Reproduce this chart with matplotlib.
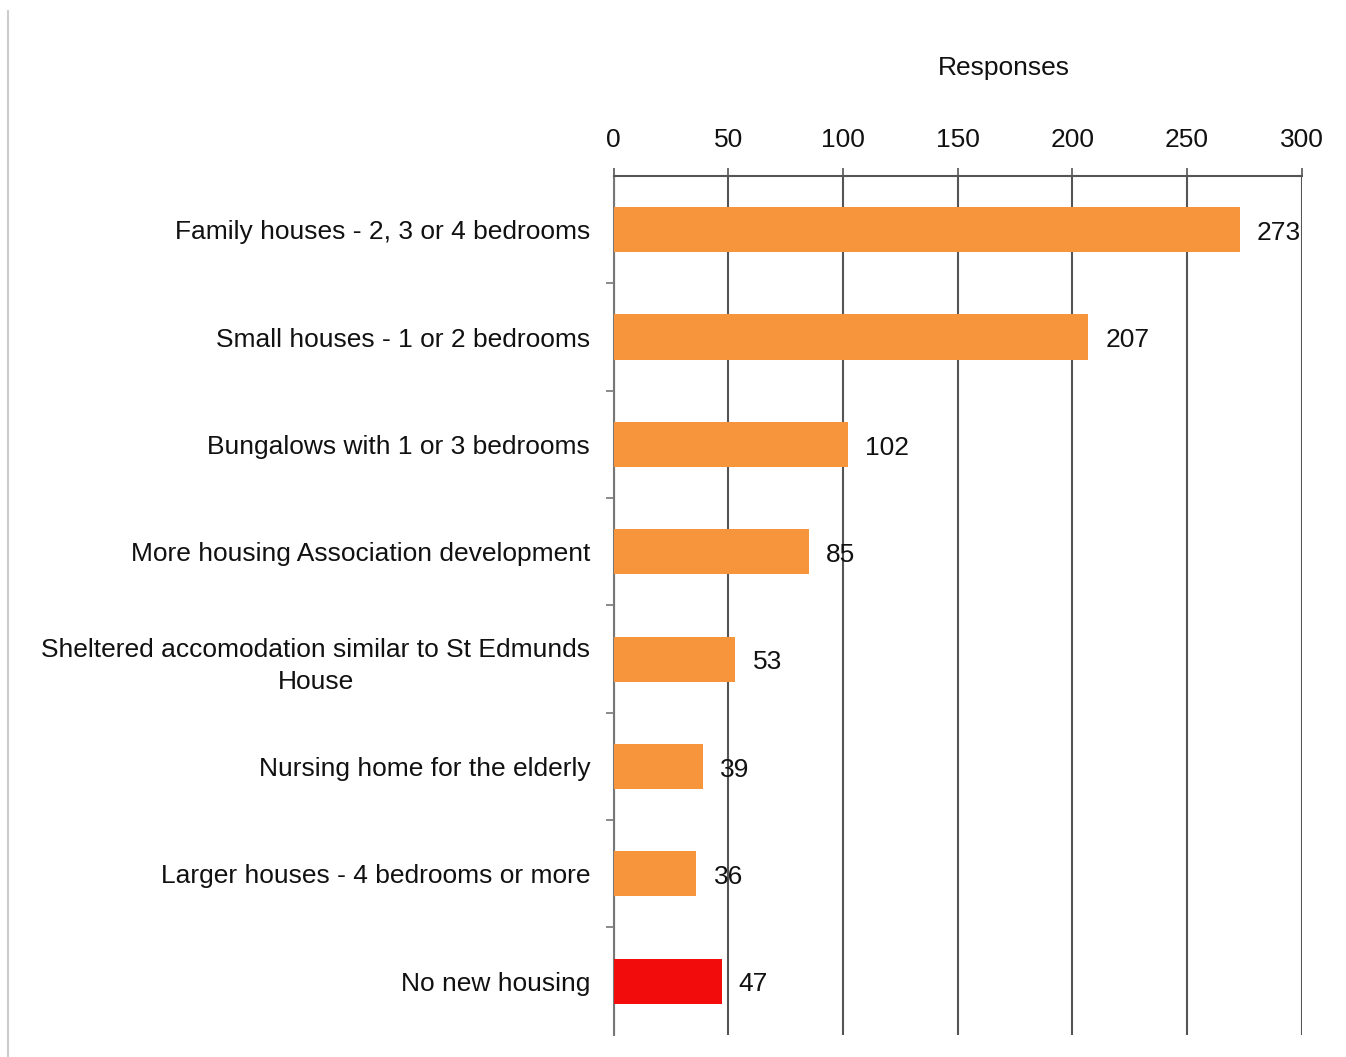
import matplotlib
matplotlib.use("Agg")
import matplotlib.pyplot as plt
from matplotlib.lines import Line2D

plt.rcParams["font.family"] = ["Liberation Sans", "DejaVu Sans"]

# survey answers, top to bottom
categories = [
    "Family houses - 2, 3 or 4 bedrooms",
    "Small houses - 1 or 2 bedrooms",
    "Bungalows with 1 or 3 bedrooms",
    "More housing Association development",
    "Sheltered accomodation similar to St Edmunds\nHouse",
    "Nursing home for the elderly",
    "Larger houses - 4 bedrooms or more",
    "No new housing",
]
responses = [273, 207, 102, 85, 53, 39, 36, 47]
bar_colors = ["#f7953c"] * 7 + ["#f20c0c"]
xticks = [0, 50, 100, 150, 200, 250, 300]

fig = plt.figure(figsize=(13.46, 10.57), dpi=100)
ax = fig.add_axes([0.456, 0.021, 0.511, 0.8125])

y = list(range(len(categories)))
ax.barh(y, responses, height=0.42, color=bar_colors, zorder=3)
for yi, v in zip(y, responses):
    ax.text(v + 7.5, yi + 0.03, str(v), va="center", ha="left", fontsize=19, color="#111111", zorder=4)

ax.set_ylim(len(categories) - 0.5, -0.5)
ax.set_xlim(0, 300)
ax.set_yticks(y)
ax.set_yticklabels(categories, fontsize=19, color="#111111", multialignment="center",
                   linespacing=1.45)
ax.set_yticks([i + 0.5 for i in y[:-1]], minor=True)
ax.tick_params(axis="y", which="major", length=0, pad=17)
ax.tick_params(axis="y", which="minor", length=6, width=1.2, color="#777777")

ax.xaxis.tick_top()
ax.set_xticks(xticks)
ax.tick_params(axis="x", length=6, width=1.2, color="#555555", labelsize=19, pad=11, labelcolor="#111111")
ax.grid(axis="x", color="#555555", linewidth=1.5, zorder=1)

for s in ["bottom", "right"]:
    ax.spines[s].set_visible(False)
ax.spines["top"].set_color("#555555")
ax.spines["top"].set_linewidth(1.5)
ax.spines["left"].set_color("#777777")
ax.spines["left"].set_linewidth(1.5)

fig.text(0.746, 0.936, "Responses", ha="center", va="center", fontsize=19, color="#111111")

# page border on the left
fig.add_artist(Line2D([0.006, 0.006], [0.0, 0.99], color="#cccccc", linewidth=1.5))

fig.savefig("out.png", dpi=100)
